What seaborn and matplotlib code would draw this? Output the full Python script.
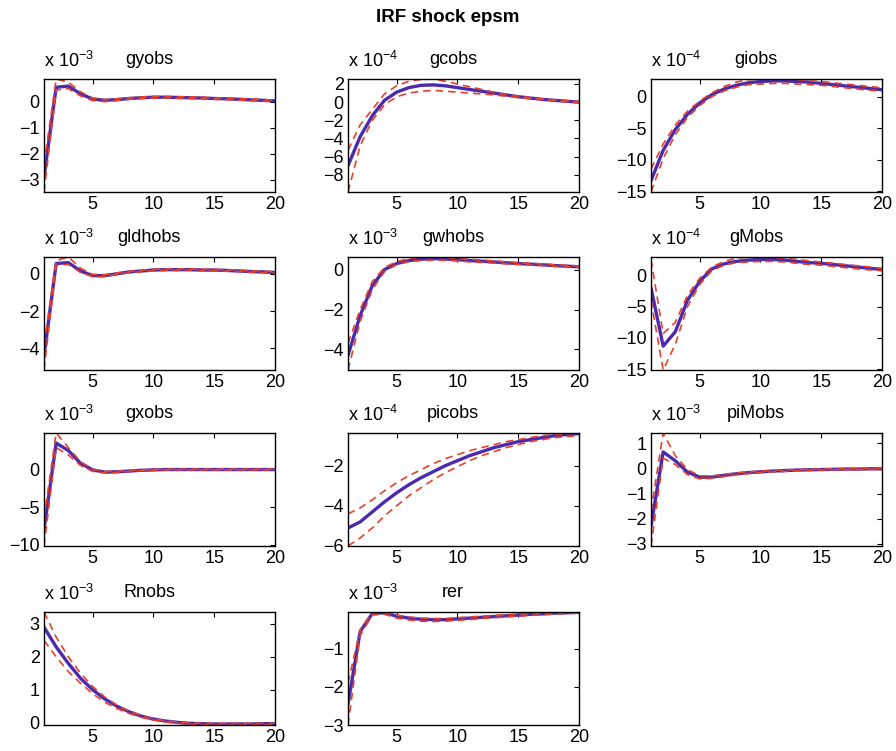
import numpy as np
import pandas as pd
import matplotlib
matplotlib.use("Agg")
import matplotlib.pyplot as plt
import seaborn as sns

# ---------------- data (values in units of 10^exponent) ----------------
periods = list(range(1, 21))
names = ["gyobs", "gcobs", "giobs", "gldhobs", "gwhobs", "gMobs",
         "gxobs", "picobs", "piMobs", "Rnobs", "rer"]
exponents = [-3, -4, -4, -3, -3, -4, -3, -4, -3, -3, -3]

gyobs_mean = [-2.9, 0.55, 0.6, 0.3, 0.1, 0.05, 0.08, 0.12, 0.15, 0.17, 0.17, 0.16, 0.15, 0.14, 0.12, 0.11, 0.09, 0.07, 0.05, 0.03]
gyobs_low = [-3.47, 0.45, 0.5, 0.22, 0.04, 0.0, 0.04, 0.09, 0.12, 0.14, 0.14, 0.13, 0.12, 0.11, 0.09, 0.08, 0.06, 0.04, 0.02, 0.0]
gyobs_up = [-2.4, 0.87, 0.75, 0.38, 0.14, 0.08, 0.11, 0.15, 0.18, 0.2, 0.2, 0.19, 0.18, 0.17, 0.15, 0.14, 0.12, 0.1, 0.08, 0.06]

gcobs_mean = [-7.0, -3.8, -1.5, 0.2, 1.1, 1.6, 1.85, 1.9, 1.8, 1.6, 1.4, 1.2, 1.0, 0.8, 0.6, 0.45, 0.3, 0.2, 0.1, 0.0]
gcobs_low = [-9.9, -4.8, -2.0, -0.3, 0.6, 1.0, 1.2, 1.3, 1.2, 1.1, 1.0, 0.9, 0.8, 0.65, 0.5, 0.4, 0.25, 0.15, 0.05, -0.1]
gcobs_up = [-5.3, -2.5, -0.8, 0.9, 1.8, 2.3, 2.5, 2.55, 2.3, 2.0, 1.7, 1.4, 1.1, 0.85, 0.65, 0.5, 0.35, 0.25, 0.15, 0.05]

giobs_mean = [-13.3, -8.5, -5.2, -2.8, -1.0, 0.3, 1.2, 1.8, 2.2, 2.4, 2.5, 2.5, 2.4, 2.3, 2.1, 1.9, 1.7, 1.5, 1.3, 1.1]
giobs_low = [-15.1, -9.8, -6.0, -3.3, -1.4, 0.0, 0.9, 1.5, 1.9, 2.0, 2.1, 2.1, 2.0, 1.9, 1.8, 1.6, 1.4, 1.2, 1.0, 0.9]
giobs_up = [-11.5, -7.5, -4.5, -2.3, -0.7, 0.6, 1.6, 2.3, 2.7, 2.8, 2.8, 2.8, 2.7, 2.5, 2.4, 2.2, 2.0, 1.8, 1.6, 1.4]

gldhobs_mean = [-4.4, 0.55, 0.6, 0.15, -0.1, -0.1, 0.0, 0.1, 0.15, 0.2, 0.22, 0.22, 0.22, 0.2, 0.2, 0.18, 0.15, 0.12, 0.1, 0.07]
gldhobs_low = [-5.16, 0.45, 0.5, 0.08, -0.16, -0.15, -0.04, 0.06, 0.11, 0.16, 0.18, 0.18, 0.18, 0.16, 0.16, 0.14, 0.11, 0.08, 0.06, 0.03]
gldhobs_up = [-3.8, 0.7, 0.9, 0.3, -0.03, -0.05, 0.04, 0.14, 0.19, 0.24, 0.26, 0.26, 0.26, 0.24, 0.24, 0.22, 0.19, 0.16, 0.14, 0.11]

gwhobs_mean = [-4.3, -2.3, -0.8, 0.0, 0.3, 0.45, 0.52, 0.55, 0.53, 0.5, 0.45, 0.42, 0.38, 0.34, 0.3, 0.27, 0.24, 0.2, 0.17, 0.14]
gwhobs_low = [-5.03, -2.6, -1.0, -0.1, 0.25, 0.4, 0.45, 0.47, 0.46, 0.43, 0.39, 0.36, 0.33, 0.29, 0.26, 0.23, 0.2, 0.17, 0.14, 0.11]
gwhobs_up = [-3.7, -2.0, -0.6, 0.1, 0.4, 0.55, 0.62, 0.63, 0.6, 0.56, 0.51, 0.48, 0.43, 0.39, 0.35, 0.31, 0.28, 0.24, 0.21, 0.18]

gMobs_mean = [-2.0, -11.3, -9.0, -4.0, -1.0, 1.0, 1.8, 2.2, 2.4, 2.5, 2.5, 2.4, 2.2, 2.0, 1.9, 1.7, 1.5, 1.3, 1.1, 0.9]
gMobs_low = [-4.0, -15.1, -11.0, -5.0, -1.5, 0.7, 1.6, 2.0, 2.1, 2.2, 2.2, 2.1, 1.9, 1.7, 1.6, 1.4, 1.2, 1.0, 0.85, 0.7]
gMobs_up = [2.5, -9.3, -7.5, -3.2, -0.5, 1.3, 2.2, 2.7, 2.9, 2.9, 2.85, 2.7, 2.5, 2.3, 2.1, 1.9, 1.7, 1.5, 1.3, 1.1]

gxobs_mean = [-8.0, 3.6, 2.6, 0.9, 0.0, -0.3, -0.25, -0.15, -0.05, 0.0, 0.05, 0.05, 0.05, 0.05, 0.05, 0.05, 0.05, 0.05, 0.05, 0.05]
gxobs_low = [-10.2, 3.0, 2.0, 0.6, -0.2, -0.4, -0.35, -0.22, -0.1, -0.05, 0.0, 0.0, 0.0, 0.0, 0.0, 0.0, 0.0, 0.0, 0.0, 0.0]
gxobs_up = [-6.5, 4.95, 3.0, 1.1, 0.1, -0.2, -0.18, -0.08, 0.0, 0.05, 0.1, 0.1, 0.1, 0.1, 0.1, 0.1, 0.1, 0.1, 0.1, 0.1]

picobs_mean = [-5.1, -4.8, -4.3, -3.8, -3.35, -2.95, -2.6, -2.3, -2.0, -1.75, -1.5, -1.3, -1.1, -0.95, -0.8, -0.7, -0.6, -0.5, -0.45, -0.4]
picobs_low = [-6.0, -5.6, -5.1, -4.5, -4.0, -3.5, -3.1, -2.7, -2.35, -2.05, -1.75, -1.5, -1.3, -1.1, -0.95, -0.8, -0.7, -0.6, -0.55, -0.5]
picobs_up = [-4.4, -4.1, -3.7, -3.25, -2.85, -2.5, -2.2, -1.9, -1.65, -1.45, -1.25, -1.1, -0.95, -0.8, -0.7, -0.6, -0.5, -0.45, -0.4, -0.37]

piMobs_mean = [-2.3, 0.65, 0.3, -0.15, -0.35, -0.35, -0.28, -0.22, -0.17, -0.14, -0.11, -0.09, -0.07, -0.06, -0.05, -0.04, -0.03, -0.03, -0.02, -0.02]
piMobs_low = [-3.08, 0.4, 0.15, -0.25, -0.42, -0.4, -0.33, -0.26, -0.21, -0.17, -0.14, -0.12, -0.1, -0.08, -0.07, -0.06, -0.05, -0.05, -0.04, -0.04]
piMobs_up = [-1.7, 1.4, 0.5, -0.05, -0.3, -0.3, -0.24, -0.18, -0.14, -0.11, -0.08, -0.06, -0.05, -0.04, -0.03, -0.02, -0.01, -0.01, 0.0, 0.0]

Rnobs_mean = [2.9, 2.3, 1.8, 1.35, 1.0, 0.72, 0.5, 0.33, 0.2, 0.11, 0.05, 0.01, -0.02, -0.03, -0.04, -0.04, -0.04, -0.04, -0.03, -0.03]
Rnobs_low = [2.5, 2.0, 1.55, 1.2, 0.88, 0.62, 0.43, 0.28, 0.16, 0.08, 0.02, -0.02, -0.05, -0.06, -0.07, -0.07, -0.07, -0.06, -0.06, -0.06]
Rnobs_up = [3.36, 2.6, 2.0, 1.5, 1.1, 0.78, 0.53, 0.35, 0.22, 0.12, 0.06, 0.02, -0.01, -0.02, -0.02, -0.02, -0.02, -0.02, -0.02, -0.02]

rer_mean = [-2.45, -0.55, -0.08, -0.06, -0.15, -0.2, -0.23, -0.24, -0.24, -0.22, -0.2, -0.18, -0.16, -0.14, -0.12, -0.1, -0.09, -0.07, -0.06, -0.05]
rer_low = [-3.0, -0.65, -0.12, -0.1, -0.2, -0.25, -0.28, -0.29, -0.28, -0.26, -0.24, -0.21, -0.19, -0.17, -0.15, -0.13, -0.11, -0.09, -0.08, -0.07]
rer_up = [-1.9, -0.5, -0.05, -0.05, -0.12, -0.17, -0.2, -0.21, -0.21, -0.19, -0.17, -0.15, -0.13, -0.11, -0.1, -0.08, -0.07, -0.06, -0.05, -0.04]

means = [gyobs_mean, gcobs_mean, giobs_mean, gldhobs_mean, gwhobs_mean, gMobs_mean,
         gxobs_mean, picobs_mean, piMobs_mean, Rnobs_mean, rer_mean]
lows = [gyobs_low, gcobs_low, giobs_low, gldhobs_low, gwhobs_low, gMobs_low,
        gxobs_low, picobs_low, piMobs_low, Rnobs_low, rer_low]
ups = [gyobs_up, gcobs_up, giobs_up, gldhobs_up, gwhobs_up, gMobs_up,
       gxobs_up, picobs_up, piMobs_up, Rnobs_up, rer_up]

yticks = [[-3, -2, -1, 0], [-8, -6, -4, -2, 0, 2], [-15, -10, -5, 0],
          [-4, -2, 0], [-4, -2, 0], [-15, -10, -5, 0],
          [-10, -5, 0], [-6, -4, -2], [-3, -2, -1, 0, 1],
          [0, 1, 2, 3], [-3, -2, -1]]
xticks = [5, 10, 15, 20]
fig_title = "IRF shock epsm"

# ---------------- style ----------------
sns.set_style("white")
plt.rcParams["font.family"] = ["Liberation Sans", "DejaVu Sans"]
plt.rcParams["mathtext.default"] = "regular"
plt.rcParams["axes.unicode_minus"] = True
plt.rcParams["text.color"] = "black"

W, H = 896, 751
fig = plt.figure(figsize=(W / 100, H / 100), dpi=100)

col_left = [44, 348, 651]
row_top = [79, 257, 433, 612]
ax_w, ax_h = 231, 113

blue = "#4A2BAE"
red = "#E8402A"
fs = 13

for i, name in enumerate(names):
    r, c = divmod(i, 3)
    left = col_left[c] / W
    bottom = 1 - (row_top[r] + ax_h) / H
    ax = fig.add_axes([left, bottom, ax_w / W, ax_h / H])
    df = pd.DataFrame({"t": periods, "mean": means[i], "low": lows[i], "up": ups[i]})
    sns.lineplot(data=df, x="t", y="mean", ax=ax, color=blue, linewidth=2.4, estimator=None)
    sns.lineplot(data=df, x="t", y="low", ax=ax, color=red, linewidth=1.2,
                 linestyle=(0, (4.5, 3)), estimator=None)
    sns.lineplot(data=df, x="t", y="up", ax=ax, color=red, linewidth=1.2,
                 linestyle=(0, (4.5, 3)), estimator=None)
    ymin = min(df[["mean", "low", "up"]].min())
    ymax = max(df[["mean", "low", "up"]].max())
    ax.set_xlim(1, 20)
    ax.set_ylim(ymin, ymax)
    ax.set_xticks(xticks)
    ax.set_yticks(yticks[i])
    ax.set_xlabel("")
    ax.set_ylabel("")
    ax.tick_params(direction="in", top=True, right=True, length=3.5, width=0.8,
                   labelsize=fs, colors="black", labelcolor="black", pad=3)
    for sp in ax.spines.values():
        sp.set_color("black")
        sp.set_linewidth(1.0)
    ax.text(0.455, 1.1, name, transform=ax.transAxes, ha="center", va="bottom",
            fontsize=fs, color="black")
    ax.text(0.0, 1.07, "x 10$^{%d}$" % exponents[i], transform=ax.transAxes,
            ha="left", va="bottom", fontsize=fs, color="black")

fig.text(0.5, 1 - 18 / H, fig_title, ha="center", va="center",
         fontsize=13.5, fontweight="bold", color="black")

fig.savefig("out.png", dpi=100)
